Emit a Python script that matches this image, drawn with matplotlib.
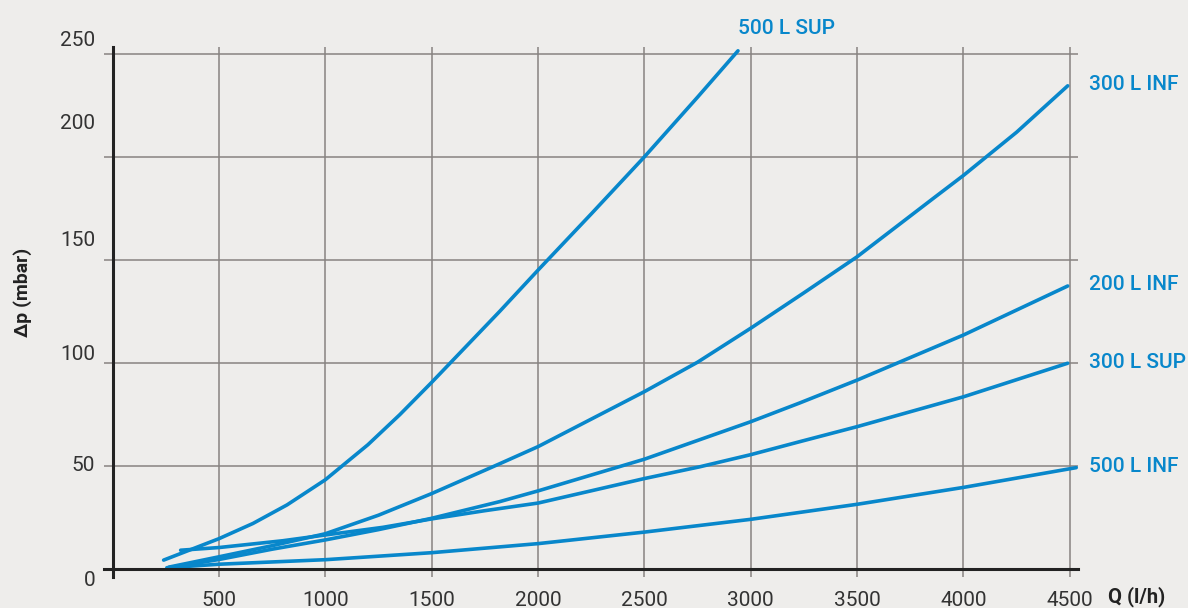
import matplotlib.pyplot as plt

# flow Q (l/h) and pressure drop dp (mbar)
q_500_sup = [240, 500, 660, 820, 1000, 1200, 1350, 1500, 1820, 2000, 2250, 2500, 2750, 2940]
dp_500_sup = [4.2, 14.6, 22, 31, 43.2, 60.2, 74.8, 90.5, 125, 145, 172.3, 200, 229, 251.5]

q_300_inf = [265, 500, 750, 1000, 1250, 1500, 1820, 2000, 2500, 2750, 3000, 3250, 3500, 3860, 4000, 4250, 4490]
dp_300_inf = [0.8, 5.8, 11.2, 17, 26, 36.5, 51, 59.3, 86, 100.3, 116.8, 134, 151.5, 180, 191, 212, 234.5]

q_200_inf = [265, 500, 750, 1000, 1250, 1500, 1820, 2000, 2500, 3000, 3230, 3500, 4000, 4490]
dp_200_inf = [0.5, 4.5, 9.5, 14, 19, 24.5, 32.6, 37.8, 53.2, 71.4, 80.5, 91.6, 113.5, 137.3]

q_300_sup = [320, 500, 800, 1000, 1270, 1500, 1750, 2000, 2500, 2760, 3000, 3230, 3500, 4000, 4490]
dp_300_sup = [9, 10.3, 13.6, 16.4, 20.1, 24.2, 28.2, 31.9, 43.8, 49.5, 55.4, 61.7, 69, 83.5, 99.8]

q_500_inf = [255, 500, 1000, 1500, 2000, 2500, 3000, 3500, 4000, 4530]
dp_500_inf = [0.5, 2.2, 4.4, 7.8, 12.2, 17.8, 24, 31.3, 39.5, 49.1]

curve_labels = ['500 L SUP', '300 L INF', '200 L INF', '300 L SUP', '500 L INF']

x_ticks = [500, 1000, 1500, 2000, 2500, 3000, 3500, 4000, 4500]
y_ticks = [50, 100, 150, 200, 250]
y_tick_labels = ['0', '50', '100', '150', '200', '250']

bg = '#eeedeb'
blue = '#0887cb'
grid_col = '#878381'

plt.rcParams['font.family'] = ['Roboto', 'DejaVu Sans']

fig = plt.figure(figsize=(11.88, 6.08), dpi=100, facecolor=bg)
ax = fig.add_axes([0.0876, 0.051, 0.9077 - 0.0876, 0.9232 - 0.051])
ax.set_facecolor(bg)
ax.set_xlim(-40, 4540)
ax.set_ylim(-4, 253.5)

for s in ['top', 'right']:
    ax.spines[s].set_visible(False)
ax.spines['left'].set_position(('data', 0))
ax.spines['bottom'].set_position(('data', 0))
for s in ['left', 'bottom']:
    ax.spines[s].set_color('#222222')
    ax.spines[s].set_linewidth(2.2)
    ax.spines[s].set_zorder(4)

ax.set_xticks(x_ticks)
ax.set_xticklabels([str(v) for v in x_ticks])
ax.set_yticks(y_ticks)
ax.set_yticklabels([])
ax.tick_params(axis='both', length=0)
ax.tick_params(axis='x', pad=16, labelsize=15, labelcolor='#333333')
ax.grid(True, color=grid_col, linewidth=1.1)
ax.set_axisbelow(True)

curves = [(q_500_sup, dp_500_sup), (q_300_inf, dp_300_inf), (q_200_inf, dp_200_inf),
          (q_300_sup, dp_300_sup), (q_500_inf, dp_500_inf)]
for (q, dp) in curves:
    ax.plot(q, dp, color=blue, linewidth=2.6, solid_capstyle='round',
            solid_joinstyle='round', zorder=3, clip_on=False)

# curve labels
ax.text(q_500_sup[-1], 262.5, curve_labels[0], color=blue, fontsize=15, fontweight='medium',
        ha='left', va='center', clip_on=False)
for (q, dp), lab in zip(curves[1:], curve_labels[1:]):
    ax.text(4590, dp[-1] + 0.5, lab, color=blue, fontsize=15, fontweight='medium',
            ha='left', va='center', clip_on=False)

# y tick labels, placed as in the reference
label_y = [-5.5, 49.9, 103.8, 159.6, 216, 256.3]
for yv, lab in zip(label_y, y_tick_labels):
    ax.text(-82, yv, lab, ha='right', va='center', fontsize=15, color='#333333', clip_on=False)

fig.text(1108 / 1188, 1 - 597 / 608, 'Q (l/h)', fontsize=14.5, fontweight='bold',
         color='#222222', ha='left', va='center')
fig.text(22.5 / 1188, 1 - 292.5 / 608, 'Δp (mbar)', fontsize=14, fontweight='bold',
         color='#222222', ha='center', va='center', rotation=90)

fig.savefig('out.png', dpi=100, facecolor=bg)
